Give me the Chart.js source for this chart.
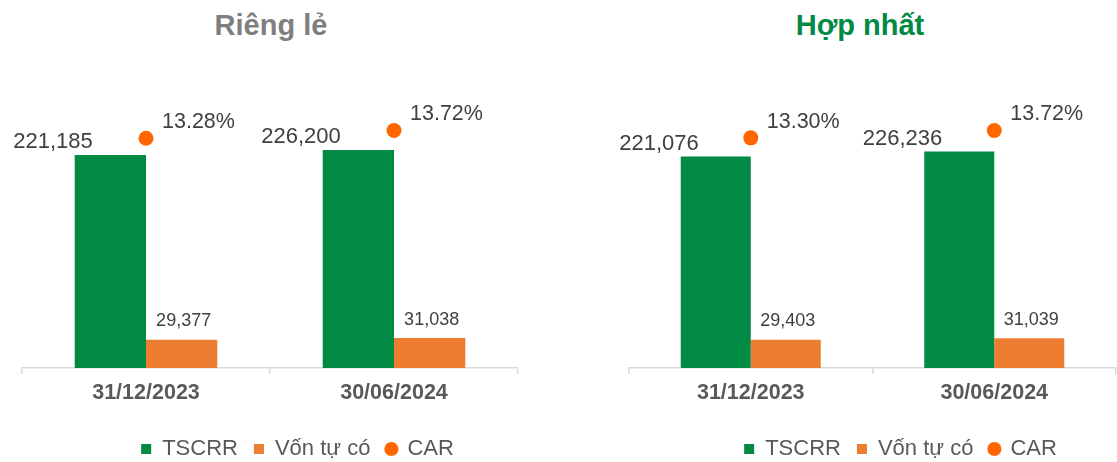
<!DOCTYPE html>
<html lang="vi">
<head>
<meta charset="utf-8">
<title>TSCRR - Vốn tự có - CAR</title>
<script src="https://cdn.jsdelivr.net/npm/chart.js@4.4.1/dist/chart.umd.min.js"></script>
<style>
    html, body { margin: 0; padding: 0; width: 1117px; height: 462px; overflow: hidden; background: #ffffff; }
    .panel { position: absolute; top: 0; }
    .tieu-de {
        position: absolute; top: 11px; width: 300px; text-align: center;
        font: bold 29px/29px "Liberation Sans", Arial, sans-serif;
    }
</style>
</head>
<body>
<div class="tieu-de" style="left:121px; color:#7F7F7F;">Riêng lẻ</div>
<div class="tieu-de" style="left:710px; color:#008A44;">Hợp nhất</div>
<canvas id="chartRiengLe" class="panel" style="left:0px" width="595" height="470"></canvas>
<canvas id="chartHopNhat" class="panel" style="left:600px" width="601" height="470"></canvas>

<script>
// Dữ liệu
const categories = ['31/12/2023', '30/06/2024'];
const seriesNames = ['TSCRR', 'Vốn tự có', 'CAR'];

const riengLeTSCRR = [221185, 226200];
const riengLeVon = [29377, 31038];
const riengLeCAR = [13.28, 13.72];

const hopNhatTSCRR = [221076, 226236];
const hopNhatVon = [29403, 31039];
const hopNhatCAR = [13.30, 13.72];

const COLORS = {
    green: '#008A44',
    orange: '#ED7D31',
    point: '#FF6600',
    text: '#404040',
    axisText: '#595959',
    axis: '#D9D9D9'
};
const FONT = '"Liberation Sans", Arial, sans-serif';

const fmtNumber = v => v.toLocaleString('en-US');
const fmtPercent = v => v.toFixed(2) + '%';

// Nhãn dữ liệu vẽ trực tiếp trên canvas
const valueLabels = {
    id: 'valueLabels',
    afterDatasetsDraw(chart) {
        const ctx = chart.ctx;
        ctx.save();
        ctx.fillStyle = COLORS.text;
        ctx.textBaseline = 'middle';
        chart.data.datasets.forEach((ds, i) => {
            const meta = chart.getDatasetMeta(i);
            meta.data.forEach((el, j) => {
                const v = ds.data[j];
                if (i === 0) {
                    // TSCRR: phía trên bên trái cột
                    ctx.font = '22px ' + FONT;
                    ctx.textAlign = 'right';
                    ctx.fillText(fmtNumber(v), el.x - el.width / 2 + 18, el.y - 13);
                } else if (i === 1) {
                    ctx.font = '18px ' + FONT;
                    ctx.textAlign = 'center';
                    ctx.fillText(fmtNumber(v), el.x + 2, el.y - 18.5);
                } else {
                    ctx.font = '21.5px ' + FONT;
                    ctx.textAlign = 'left';
                    ctx.fillText(fmtPercent(v), el.x + 16, el.y - 16);
                }
            });
        });
        ctx.restore();
    }
};

function makeChart(canvasId, tscrr, von, car, cfg) {
    const ctx = document.getElementById(canvasId);
    return new Chart(ctx, {
        type: 'bar',
        data: {
            labels: categories,
            datasets: [{
                label: seriesNames[0],
                data: tscrr,
                backgroundColor: COLORS.green,
                yAxisID: 'y',
                categoryPercentage: 0.575,
                barPercentage: 1.0
            }, {
                label: seriesNames[1],
                data: von,
                backgroundColor: COLORS.orange,
                yAxisID: 'y',
                categoryPercentage: 0.575,
                barPercentage: 1.0
            }, {
                type: 'line',
                label: seriesNames[2],
                data: car,
                yAxisID: 'y1',
                showLine: false,
                pointRadius: 7.5,
                pointHoverRadius: 7.5,
                pointBackgroundColor: COLORS.point,
                pointBorderWidth: 0,
                backgroundColor: COLORS.point,
                borderColor: COLORS.point
            }]
        },
        options: {
            responsive: false,
            maintainAspectRatio: false,
            animation: false,
            layout: { padding: { top: 79, left: 0, right: 0, bottom: 0 } },
            scales: {
                x: {
                    grid: {
                        display: true,
                        drawOnChartArea: false,
                        drawTicks: true,
                        tickLength: 6,
                        color: COLORS.axis,
                        lineWidth: 1.5
                    },
                    border: { display: true, color: COLORS.axis, width: 1.5 },
                    ticks: {
                        color: COLORS.axisText,
                        padding: 6,
                        font: { family: FONT, size: 21.5, weight: 'bold' }
                    },
                    afterFit: s => { s.height = 54; }
                },
                y: {
                    position: 'left',
                    min: 0,
                    max: cfg.yMax,
                    grid: { display: false },
                    border: { display: false },
                    ticks: { display: false },
                    afterFit: s => { s.width = cfg.leftW; }
                },
                y1: {
                    position: 'right',
                    min: 0,
                    max: 16.7,
                    grid: { display: false },
                    border: { display: false },
                    ticks: { display: false },
                    afterFit: s => { s.width = cfg.rightW; }
                }
            },
            plugins: {
                tooltip: { enabled: false },
                legend: {
                    position: 'bottom',
                    labels: {
                        usePointStyle: true,
                        boxWidth: 10,
                        boxHeight: 10,
                        padding: 16,
                        color: COLORS.axisText,
                        font: { family: FONT, size: 22 },
                        generateLabels(chart) {
                            const items = Chart.defaults.plugins.legend.labels.generateLabels(chart);
                            items.forEach(it => {
                                it.pointStyle = it.datasetIndex === 2 ? 'circle' : 'rect';
                                it.lineWidth = 0;
                            });
                            return items;
                        }
                    }
                }
            }
        },
        plugins: [valueLabels]
    });
}

makeChart('chartRiengLe', riengLeTSCRR, riengLeVon, riengLeCAR, { yMax: 300000, leftW: 22, rightW: 77 });
makeChart('chartHopNhat', hopNhatTSCRR, hopNhatVon, hopNhatCAR, { yMax: 302000, leftW: 29, rightW: 85 });
</script>
</body>
</html>
